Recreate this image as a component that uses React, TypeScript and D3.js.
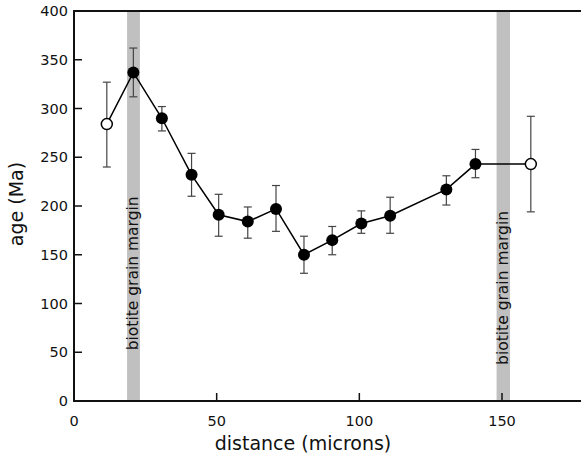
import React from "react";
import * as d3 from "d3";

const distances = [11.5, 20.8, 30.8, 41.2, 50.7, 60.9, 70.8, 80.6, 90.5, 100.7, 110.8, 130.5, 140.7, 160.1];
const ages = [284, 337, 290, 232, 191, 184, 197, 150, 165, 182, 190, 217, 243, 243];
const errHigh = [327, 362, 302, 254, 212, 199, 221, 169, 179, 195, 209, 231, 258, 292];
const errLow = [240, 312, 277, 210, 169, 167, 174, 131, 150, 172, 172, 201, 229, 194];
const openPoint = [true, false, false, false, false, false, false, false, false, false, false, false, false, true];

const bandStarts = [18.6, 148.1];
const bandEnds = [23.1, 152.8];
const bandLabel = "biotite grain margin";
const bandLabelStart = [52, 37];

const xTicks = [0, 50, 100, 150];
const yTicks = [0, 50, 100, 150, 200, 250, 300, 350, 400];

const W = 581;
const H = 463;
const FONT = "'DejaVu Sans', Verdana, sans-serif";

export default function App() {
  const x = d3.scaleLinear().domain([0, 150]).range([74, 502]);
  const y = d3.scaleLinear().domain([0, 400]).range([401, 11]);
  const x0 = x(0);
  const y0 = y(0);
  const yTop = y(400);

  const pts = distances.map((d, i) => ({ d, a: ages[i], hi: errHigh[i], lo: errLow[i], open: openPoint[i] }));
  const line = d3
    .line<{ d: number; a: number }>()
    .x((p) => x(p.d))
    .y((p) => y(p.a));

  return (
    <svg
      width={W}
      height={H}
      style={{ position: "absolute", left: 0, top: 0, background: "#fff" }}
      fontFamily={FONT}
    >
      {bandStarts.map((s, i) => (
        <g key={"band" + i}>
          <rect x={x(s)} y={yTop} width={x(bandEnds[i]) - x(s)} height={y0 - yTop} fill="#c0c0c0" />
          <text
            transform={`translate(${(x(s) + x(bandEnds[i])) / 2},${y(bandLabelStart[i])}) rotate(-90)`}
            fontSize={15.5}
            dominantBaseline="central"
            fill="#111"
          >
            {bandLabel}
          </text>
        </g>
      ))}

      <line x1={x0} x2={W} y1={y0} y2={y0} stroke="#111" strokeWidth={2} />
      <line x1={x0} x2={W} y1={yTop} y2={yTop} stroke="#111" strokeWidth={2} />
      <line x1={x0} x2={x0} y1={yTop - 1} y2={y0 + 1} stroke="#111" strokeWidth={2} />

      {xTicks.map((t) => (
        <g key={"xt" + t}>
          {t !== 0 && <line x1={x(t)} x2={x(t)} y1={y0} y2={y0 - 8} stroke="#111" strokeWidth={1.5} />}
          <text x={x(t)} y={426} fontSize={14.5} textAnchor="middle" fill="#111">
            {t}
          </text>
        </g>
      ))}
      {yTicks.map((t) => (
        <g key={"yt" + t}>
          {t !== 0 && t !== 400 && <line x1={x0} x2={x0 + 8} y1={y(t)} y2={y(t)} stroke="#111" strokeWidth={1.5} />}
          <text x={68} y={y(t)} fontSize={14.5} textAnchor="end" dominantBaseline="central" fill="#111">
            {t}
          </text>
        </g>
      ))}

      <text x={303} y={450} fontSize={19} textAnchor="middle" fill="#111">
        distance (microns)
      </text>
      <text
        transform={`translate(16,204) rotate(-90)`}
        fontSize={19}
        textAnchor="middle"
        dominantBaseline="central"
        fill="#111"
      >
        age (Ma)
      </text>

      {pts.map((p, i) => (
        <g key={"e" + i} stroke="#444" strokeWidth={1.2}>
          <line x1={x(p.d)} x2={x(p.d)} y1={y(p.hi)} y2={y(p.lo)} />
          <line x1={x(p.d) - 4} x2={x(p.d) + 4} y1={y(p.hi)} y2={y(p.hi)} />
          <line x1={x(p.d) - 4} x2={x(p.d) + 4} y1={y(p.lo)} y2={y(p.lo)} />
        </g>
      ))}

      <path d={line(pts) || ""} fill="none" stroke="#000" strokeWidth={1.5} />

      {pts.map((p, i) => (
        <circle
          key={"c" + i}
          cx={x(p.d)}
          cy={y(p.a)}
          r={p.open ? 5.5 : 6}
          fill={p.open ? "#fff" : "#000"}
          stroke="#000"
          strokeWidth={p.open ? 1.5 : 0}
        />
      ))}
    </svg>
  );
}
